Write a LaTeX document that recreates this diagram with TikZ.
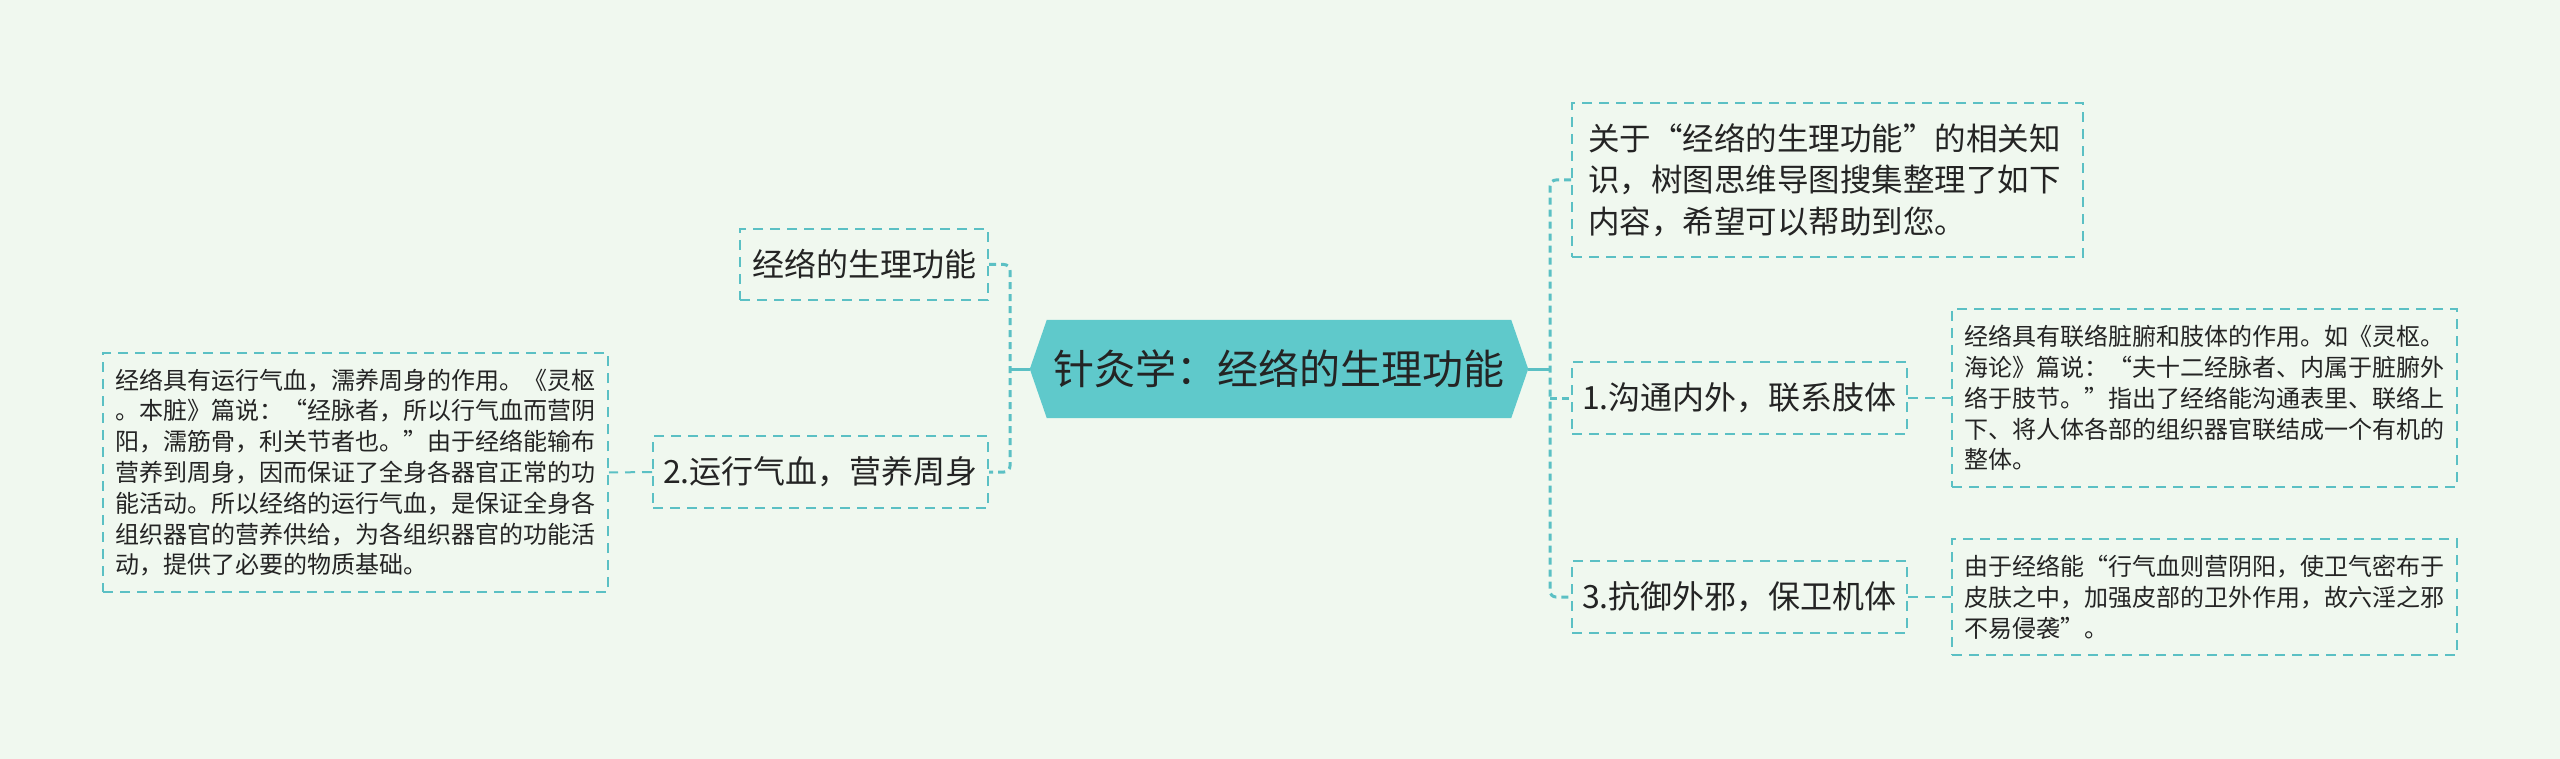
\documentclass[tikz,border=0pt]{standalone}
\usepackage{fontspec}
\setmainfont{Noto Sans CJK SC}
\newfontfamily\fwfont[RawFeature=+fwid]{Noto Sans CJK SC}
\newcommand{\Lq}{{\fwfont “}}
\newcommand{\Rq}{{\fwfont ”}}
\usetikzlibrary{backgrounds,calc}
\definecolor{bg}{HTML}{F0F8EF}
\definecolor{tealfill}{HTML}{5FC9CB}
\definecolor{dashc}{HTML}{5BC0C4}
\definecolor{txt}{HTML}{242424}
\begin{document}
\begin{tikzpicture}[x=1pt,y=-1pt,
  box/.style={draw=dashc, line width=2pt, dash pattern=on 10pt off 7pt, text=txt, inner ysep=0pt},
  lvl/.style={box, minimum width=335pt, minimum height=72pt, font=\fontsize{32}{40}\selectfont, inner xsep=0pt},
  detail/.style={box, inner xsep=12pt, text width=481pt, align=left, font=\fontsize{24}{30.8}\selectfont},
  trunk/.style={draw=dashc, line width=3pt, dash pattern=on 7pt off 5pt, rounded corners=6pt},
  link/.style={draw=dashc, line width=2pt, dash pattern=on 10pt off 7pt},
  solidlink/.style={draw=dashc, line width=3pt}
]
\useasboundingbox (0,0) rectangle (2560,759);

% central
\node[minimum width=498pt, minimum height=98pt, inner sep=0pt, text=txt,
      font=\fontsize{41}{48}\selectfont] (c) at (1279,369) {针灸学：经络的生理功能};

% left side
\node[lvl, minimum width=248pt, minimum height=71pt] (tl) at (864,264.5) {经络的生理功能};
\node[lvl] (n2) at (820.5,472) {2.运行气血，营养周身};
\node[detail, minimum height=239pt] (dl) at (355.5,472.5) {经络具有运行气血，濡养周身的作用。《灵枢\\。本脏》篇说：\Lq 经脉者，所以行气血而营阴\\阳，濡筋骨，利关节者也。\Rq 由于经络能输布\\营养到周身，因而保证了全身各器官正常的功\\能活动。所以经络的运行气血，是保证全身各\\组织器官的营养供给，为各组织器官的功能活\\动，提供了必要的物质基础。};

% right side
\node[box, inner xsep=16pt, text width=479pt, align=left, minimum height=154pt,
      font=\fontsize{31.5}{41.5}\selectfont] (tr) at (1827.5,180)
  {关于\Lq 经络的生理功能\Rq 的相关知\\识，树图思维导图搜集整理了如下\\内容，希望可以帮助到您。};
\node[lvl] (n1) at (1739.5,398) {1.沟通内外，联系肢体};
\node[lvl] (n3) at (1739.5,597) {3.抗御外邪，保卫机体};
\node[detail, minimum height=178pt] (d1) at (2204.5,398) {经络具有联络脏腑和肢体的作用。如《灵枢。\\海论》篇说：\Lq 夫十二经脉者、内属于脏腑外\\络于肢节。\Rq 指出了经络能沟通表里、联络上\\下、将人体各部的组织器官联结成一个有机的\\整体。};
\node[detail, minimum height=116pt] (d3) at (2204.5,597) {由于经络能\Lq 行气血则营阴阳，使卫气密布于\\皮肤之中，加强皮部的卫外作用，故六淫之邪\\不易侵袭\Rq 。};

\begin{scope}[on background layer]
\fill[bg] (0,0) rectangle (2560,759);
\fill[tealfill] (c.west) -- ($(c.north west)+(17,0)$) -- ($(c.north east)+(-17,0)$)
   -- (c.east) -- ($(c.south east)+(-17,0)$) -- ($(c.south west)+(17,0)$) -- cycle;
\end{scope}

% connectors right
\coordinate (rt) at (1550,369);
\draw[solidlink] (c.east) -- (rt);
\draw[trunk] (tr.west) -- (tr.west -| rt) -- (n3.west -| rt) -- (n3.west);
\draw[trunk] (n1.west -| rt) -- (n1.west);
\draw[link] (n1.east) -- (d1.west);
\draw[link] (n3.east) -- (d3.west);

% connectors left
\coordinate (lt) at (1010,369);
\draw[solidlink] (c.west) -- (lt);
\draw[trunk] (tl.east) -- (tl.east -| lt) -- (n2.east -| lt) -- (n2.east);
\draw[link] (n2.west) -- (dl.east);
\end{tikzpicture}
\end{document}
